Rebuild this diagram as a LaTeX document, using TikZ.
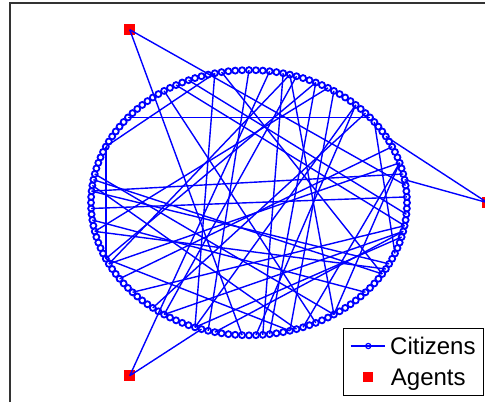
\documentclass[tikz,border=0pt]{standalone}
\usepackage{fontspec}
\setmainfont{Liberation Sans}
\definecolor{citblue}{RGB}{0,0,255}
\begin{document}
\begin{tikzpicture}[x=1pt,y=-1pt,
  citizen/.style={circle,draw=citblue,line width=1.8pt,minimum size=6pt,inner sep=0pt},
  agent/.style={rectangle,fill=red,minimum size=11pt,inner sep=0pt},
  edge/.style={draw=citblue,line width=1.4pt},
  frame/.style={draw=black!80,line width=1.1pt},
  legendtext/.style={anchor=base west,font=\fontsize{24}{28}\selectfont,inner sep=0pt}]
\useasboundingbox (0,0) rectangle (485,402);
% axes frame
\coordinate (fbl) at (10,402);
\coordinate (ftl) at (10,3);
\coordinate (ftr) at (485,3);
\draw[frame] (fbl) -- (ftl) -- (ftr);
% citizens
\foreach \k in {0,...,143}{
  \node[citizen] (c\k) at ({249+158*cos(\k*2.5)},{202.7-132.6*sin(\k*2.5)}) {};
}
% agents
\node[agent] (aR) at (487.5,202.7) {};
\node[agent] (aTL) at (129.75,29.7) {};
\node[agent] (aBL) at (129.75,375.7) {};
% agent links
\foreach \a/\b in {aTL/c3,aTL/c107,aR/c12,aR/c4,aBL/c33,aBL/c101}{
  \draw[edge] (\a.center) -- (\b.center);
}
% citizen links
\foreach \a/\b in {16/56,62/82,62/41,70/5,73/1,47/140,45/142,41/100,40/131,36/102,30/83,29/95,30/121,31/110,26/111,23/114,19/109,15/135,7/116,7/121,68/131,77/24,82/114,89/140,95/139,100/138,69/115,67/121,83/7,100/19,77/132,82/26,70/133,103/139,75/127,86/10,49/118,93/17}{
  \draw[edge] (c\a.center) -- (c\b.center);
}
% legend
\node[draw=black,line width=1.1pt,fill=white,minimum width=140pt,minimum height=67.3pt,inner sep=0pt,anchor=north west] (legbox) at (343.3,327.7) {};
\coordinate (lgA) at (350.7,346);
\coordinate (lgB) at (385,346);
\draw[edge,line width=1.2pt] (lgA) -- (lgB);
\node[citizen,minimum size=5.2pt,line width=1.2pt] (lgc) at (368.3,346) {};
\node[legendtext] (lgt1) at (390,354) {Citizens};
\node[agent,minimum size=10pt] (lga) at (368.3,377.3) {};
\node[legendtext] (lgt2) at (390.7,385.5) {Agents};
\end{tikzpicture}
\end{document}
